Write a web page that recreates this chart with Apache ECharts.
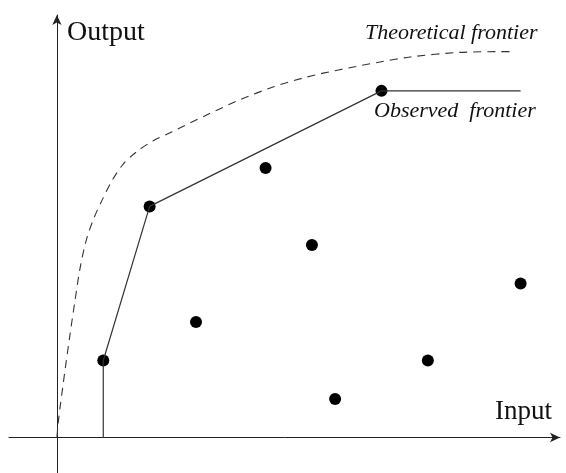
<!DOCTYPE html>
<html>
<head>
<meta charset="utf-8">
<script src="https://cdn.jsdelivr.net/npm/echarts@6/dist/echarts.min.js"></script>
<style>html,body{margin:0;padding:0;background:#fff;}#c{width:566px;height:473px;}</style>
</head>
<body>
<div id="c"></div>
<script>
// Observed firms (input, output)
const pointsX = [1, 2, 3, 4.5, 5.5, 6, 7, 8, 10];
const pointsY = [2, 6, 3, 7, 5, 1, 9, 2, 4];
// Observed (piecewise-linear) frontier
const frontierX = [1, 1, 2, 7, 10];
const frontierY = [0, 2, 6, 9, 9];
// Theoretical frontier (dashed curve)
const theoX = [0, 0.03, 0.07, 0.17, 0.28, 0.39, 0.5, 0.64, 0.8, 0.97, 1.18, 1.43, 1.72, 2.07, 2.47, 3.24, 3.95, 4.66, 5.39, 6.1, 6.97, 7.62, 8.69, 9.84];
const theoY = [0, 0.4, 0.8, 1.7, 2.65, 3.55, 4.4, 5.15, 5.7, 6.15, 6.65, 7.1, 7.42, 7.7, 7.93, 8.38, 8.77, 9.1, 9.36, 9.55, 9.75, 9.88, 10.0, 10.02];
// Text labels
const axisXLabel = 'Input';
const axisYLabel = 'Output';
const theoLabel = 'Theoretical frontier';
const obsLabel = 'Observed  frontier';

const zip = (a, b) => a.map((v, i) => [v, b[i]]);
const chart = echarts.init(document.getElementById('c'), null, {renderer: 'canvas'});
const axisCommon = {
  type: 'value',
  axisTick: {show: false},
  axisLabel: {show: false},
  splitLine: {show: false},
  axisLine: {show: true, onZero: true, symbol: ['none', 'arrow'], symbolSize: [7, 10], lineStyle: {color: '#222', width: 1}}
};
const serif = '"Liberation Serif", "DejaVu Serif", serif';
chart.setOption({
  animation: false,
  backgroundColor: '#fff',
  grid: {left: 9, right: 6, top: 15, bottom: 0},
  xAxis: Object.assign({}, axisCommon, {min: -1.033, max: 10.85}),
  yAxis: Object.assign({}, axisCommon, {min: -0.922, max: 10.97}),
  series: [
    {type: 'line', data: zip(theoX, theoY), smooth: 0.3, symbol: 'none',
     lineStyle: {color: '#333', width: 1.1, type: [8, 6]}},
    {type: 'line', data: zip(frontierX, frontierY), symbol: 'none',
     lineStyle: {color: '#333', width: 1.2}},
    {type: 'scatter', data: zip(pointsX, pointsY), symbolSize: 12,
     itemStyle: {color: '#000', opacity: 1}}
  ],
  graphic: [
    {type: 'text', left: 67, top: 19, style: {text: axisYLabel, font: '28px ' + serif, fill: '#111'}},
    {type: 'text', left: 495, top: 398, style: {text: axisXLabel, font: '27px ' + serif, fill: '#111'}},
    {type: 'text', left: 365, top: 22, style: {text: theoLabel, font: 'italic 22px ' + serif, fill: '#111'}},
    {type: 'text', left: 374, top: 100, style: {text: obsLabel, font: 'italic 22px ' + serif, fill: '#111'}}
  ]
});
</script>
</body>
</html>
